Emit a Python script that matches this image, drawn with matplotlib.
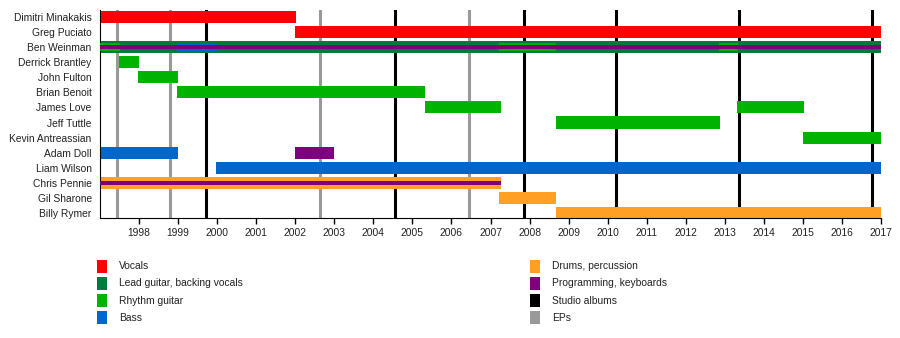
import matplotlib.pyplot as plt
from matplotlib.patches import Rectangle

plt.rcParams['font.family'] = ['Liberation Sans', 'DejaVu Sans']

# medlemmar, uppifrån och ned
members = ["Dimitri Minakakis", "Greg Puciato", "Ben Weinman", "Derrick Brantley",
           "John Fulton", "Brian Benoit", "James Love", "Jeff Tuttle",
           "Kevin Antreassian", "Adam Doll", "Liam Wilson", "Chris Pennie",
           "Gil Sharone", "Billy Rymer"]

# (medlem, start, slut)
vocals = [("Dimitri Minakakis", 1997.0, 2002.03), ("Greg Puciato", 2002.0, 2017.0)]
lead_guitar = [("Ben Weinman", 1997.0, 2017.0)]
rhythm_guitar = [("Derrick Brantley", 1997.49, 1998.0), ("John Fulton", 1997.97, 1999.0),
                 ("Brian Benoit", 1998.97, 2005.33), ("James Love", 2005.31, 2007.26),
                 ("Jeff Tuttle", 2008.67, 2012.87), ("James Love", 2013.31, 2015.03),
                 ("Kevin Antreassian", 2015.0, 2017.0)]
bass = [("Adam Doll", 1997.0, 1999.0), ("Liam Wilson", 1999.97, 2017.0)]
drums = [("Chris Pennie", 1997.0, 2007.26), ("Gil Sharone", 2007.23, 2008.69),
         ("Billy Rymer", 2008.67, 2017.0)]
programming = [("Adam Doll", 2002.0, 2003.0)]

# tunna ränder (andra roller) och mittrand
second_rhythm = [("Ben Weinman", 1997.0, 1997.51), ("Ben Weinman", 2007.23, 2008.69),
                 ("Ben Weinman", 2012.85, 2013.33)]
second_bass = [("Ben Weinman", 1998.97, 2000.0)]
center_programming = [("Ben Weinman", 1997.0, 2017.0), ("Chris Pennie", 1997.0, 2007.26)]

studio_albums = [1999.72, 2004.55, 2007.85, 2010.21, 2013.37, 2016.78]
eps = [1997.43, 1998.80, 2002.64, 2006.44]
years = list(range(1998, 2018))

colors = {
    "Vocals": "#ff0000",
    "Lead guitar, backing vocals": "#007b3d",
    "Rhythm guitar": "#00b300",
    "Bass": "#0066cc",
    "Drums, percussion": "#ffa024",
    "Programming, keyboards": "#7f007f",
    "Studio albums": "#000000",
    "EPs": "#999999",
}

fig = plt.figure(figsize=(9, 3.38), dpi=100)
ax = fig.add_axes([100 / 900, 1 - 218 / 338, 781 / 900, 208 / 338])

for x in eps:
    ax.axvline(x, color=colors["EPs"], lw=2.2, zorder=1)
for x in studio_albums:
    ax.axvline(x, color=colors["Studio albums"], lw=2.2, zorder=1)


def draw(rows, color, h, z):
    for name, start, end in rows:
        ax.barh(members.index(name), end - start, left=start, height=h,
                color=color, lw=0, zorder=z)


draw(vocals, colors["Vocals"], 0.8, 2)
draw(lead_guitar, colors["Lead guitar, backing vocals"], 0.8, 2)
draw(rhythm_guitar, colors["Rhythm guitar"], 0.8, 2)
draw(bass, colors["Bass"], 0.8, 2)
draw(drums, colors["Drums, percussion"], 0.8, 2)
draw(programming, colors["Programming, keyboards"], 0.8, 2)
draw(second_rhythm, colors["Rhythm guitar"], 0.53, 3)
draw(second_bass, colors["Bass"], 0.53, 3)
draw(center_programming, colors["Programming, keyboards"], 0.27, 4)

ax.set_xlim(1997, 2017)
ax.set_ylim(13.33, -0.46)
ax.set_yticks(range(len(members)))
ax.set_yticklabels(members, fontsize=7.4, color="#222222")
ax.tick_params(axis="y", length=0, pad=6)
ax.set_xticks(years)
ax.set_xticklabels([str(y) for y in years], fontsize=7.4, color="#222222")
ax.tick_params(axis="x", length=4, width=1, pad=3, direction="out")
ax.spines["top"].set_visible(False)
ax.spines["right"].set_visible(False)

# legend, ritas för hand
left_items = ["Vocals", "Lead guitar, backing vocals", "Rhythm guitar", "Bass"]
right_items = ["Drums, percussion", "Programming, keyboards", "Studio albums", "EPs"]
for col, items in [(97, left_items), (530, right_items)]:
    for i, label in enumerate(items):
        yc = 266 + 17.3 * i
        fig.add_artist(Rectangle((col / 900, 1 - (yc + 6.5) / 338), 10 / 900, 13 / 338,
                                 transform=fig.transFigure, color=colors[label], lw=0))
        fig.text((col + 22) / 900, 1 - yc / 338, label, fontsize=7.4, color="#222222",
                 va="center", ha="left")

fig.savefig("out.png", dpi=100)
